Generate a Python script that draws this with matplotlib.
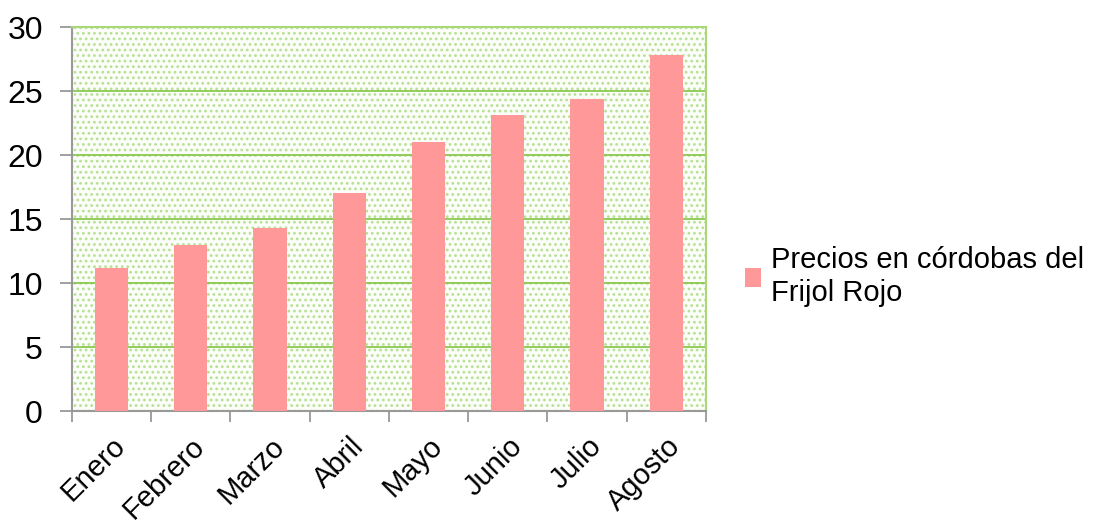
import matplotlib.pyplot as plt
from matplotlib.patches import Rectangle
from matplotlib.ticker import FixedLocator

meses = ['Enero', 'Febrero', 'Marzo', 'Abril', 'Mayo', 'Junio', 'Julio', 'Agosto']
precios = [11.2, 13.0, 14.3, 17.0, 21.0, 23.1, 24.4, 27.8]
serie = 'Precios en córdobas del\nFrijol Rojo'

plt.rcParams['font.family'] = ['Liberation Sans', 'DejaVu Sans']
plt.rcParams['hatch.linewidth'] = 1.2

fig = plt.figure(figsize=(11.08, 5.22), dpi=100)
ax = fig.add_axes([0.065, 0.2126, 0.572, 0.7356])

# dotted green background
bg = Rectangle((0, 0), 1, 1, transform=ax.transAxes, facecolor='#fbfdf8',
               edgecolor='#b8e092', hatch='...', linewidth=0, zorder=0)
ax.add_patch(bg)

x = range(len(meses))
ax.bar(x, precios, width=0.42, color='#ff9999', zorder=3, label=serie)

ax.set_xlim(-0.5, len(meses) - 0.5)
ax.set_ylim(0, 30)
ax.set_yticks(range(0, 31, 5))
ax.yaxis.grid(True, color='#8cc850', linewidth=1.3, zorder=1)
ax.set_axisbelow(True)

ax.set_xticks(list(x))
ax.set_xticklabels(meses, rotation=45, ha='right', rotation_mode='anchor', fontsize=21)
ax.xaxis.set_minor_locator(FixedLocator([i - 0.5 for i in range(len(meses) + 1)]))
ax.tick_params(axis='x', which='major', length=0, pad=15)
ax.tick_params(axis='x', which='minor', length=8, color='#999999', width=1.3)
ax.tick_params(axis='y', length=9, color='#999999', width=1.3, labelsize=23, pad=12)

for s in ['left', 'bottom']:
    ax.spines[s].set_color('#999999')
    ax.spines[s].set_linewidth(1.5)
for s in ['top', 'right']:
    ax.spines[s].set_color('#a8d878')
    ax.spines[s].set_linewidth(1.5)

ax.legend(loc='center left', bbox_to_anchor=(1.02, 0.35), frameon=False,
          fontsize=21, handlelength=0.55, handleheight=0.65, handletextpad=0.35,
          labelspacing=0.2)

fig.savefig('out.png', dpi=100)
